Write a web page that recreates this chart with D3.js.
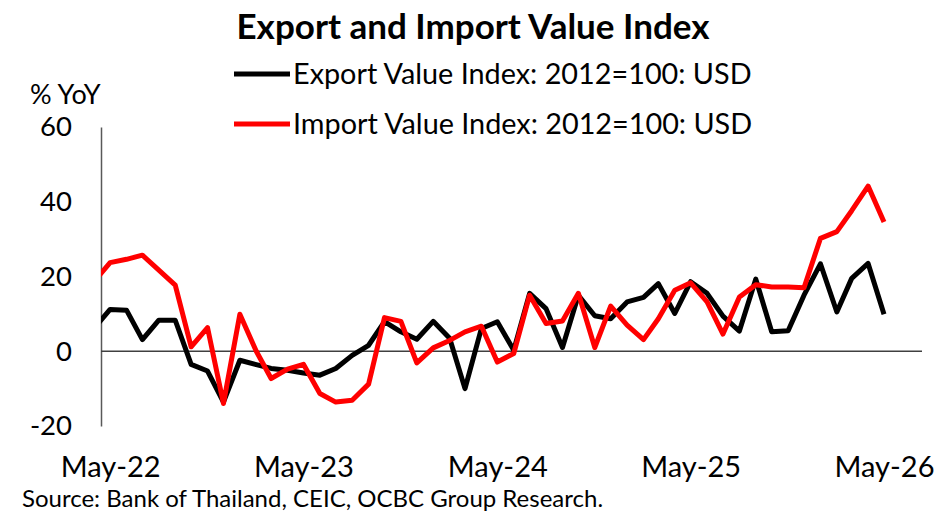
<!DOCTYPE html>
<html>
<head>
<meta charset="utf-8">
<script src="https://cdn.jsdelivr.net/npm/d3@7"></script>
<style>
  body { margin: 0; background: #fff; }
  text { font-family: Lato, "Open Sans", sans-serif; fill: #000; }
</style>
</head>
<body>
<div id="chart"></div>
<script>
// Datos (% YoY), meses de Apr-22 a May-26
const months = d3.timeMonth.range(new Date(2022, 3, 1), new Date(2026, 5, 1));

const exportValues = [6.2, 11.2, 11.0, 3.1, 8.3, 8.3, -3.5, -5.3, -13.6, -2.4,
  -3.6, -4.6, -5.1, -5.8, -6.4, -4.6, -1.1, 1.6, 7.9, 5.2,
  3.2, 8.0, 3.5, -10.0, 6.1, 7.9, 0.3, 15.5, 11.4, 1.0,
  15.0, 9.5, 8.7, 13.2, 14.4, 18.1, 10.1, 18.6, 15.5, 9.4,
  5.4, 19.3, 5.2, 5.5, 15.0, 23.4, 10.5, 19.5, 23.5, 9.9];

const importValues = [18.7, 23.7, 24.6, 25.7, 21.7, 17.7, 1.2, 6.3, -14.0, 9.9,
  0.0, -7.3, -4.8, -3.5, -11.3, -13.6, -13.1, -8.8, 9.0, 8.0,
  -3.1, 0.9, 2.9, 5.2, 6.7, -2.9, -0.6, 15.0, 7.4, 8.1,
  15.5, 1.0, 12.1, 7.0, 3.1, 8.7, 16.3, 18.3, 13.2, 4.6,
  14.5, 17.8, 17.2, 17.2, 17.0, 30.2, 32.0, 37.6, 44.2, 34.6];

const yTicks = [-20, 0, 20, 40, 60];
const xTickDates = [new Date(2022, 4, 1), new Date(2023, 4, 1), new Date(2024, 4, 1),
  new Date(2025, 4, 1), new Date(2026, 4, 1)];

const seriesNames = ['Export Value Index: 2012=100: USD', 'Import Value Index: 2012=100: USD'];
const seriesColors = ['#000000', '#ff0000'];

// Constantes
const width = 950;
const height = 515;
const plotLeft = 101;
const plotRight = 922;

const svg = d3.select('#chart')
  .append('svg')
  .attr('width', width)
  .attr('height', height);

const x = d3.scaleTime()
  .domain([months[0], months[months.length - 1]])
  .range([94.2, 884]);

const y = d3.scaleLinear()
  .domain([-20, 60])
  .range([426, 127]);

// Titulo
svg.append('text')
  .attr('x', 473)
  .attr('y', 39)
  .attr('text-anchor', 'middle')
  .attr('font-size', 35)
  .attr('font-weight', 'bold')
  .text('Export and Import Value Index');

// Leyenda
seriesNames.forEach((name, i) => {
  const ly = 74 + i * 50;
  svg.append('line')
    .attr('x1', 234).attr('x2', 290)
    .attr('y1', ly).attr('y2', ly)
    .attr('stroke', seriesColors[i])
    .attr('stroke-width', 5);
  svg.append('text')
    .attr('x', 293)
    .attr('y', ly + 10)
    .attr('font-size', 28.8)
    .text(name);
});

// Eje Y
svg.append('text')
  .attr('x', 30)
  .attr('y', 104)
  .attr('font-size', 27)
  .text('% YoY');

const yAxis = svg.append('g')
  .attr('transform', `translate(${plotLeft},0)`)
  .call(d3.axisLeft(y).tickValues(yTicks).tickFormat(d => String(d)).tickSize(0).tickPadding(29));
yAxis.select('.domain').attr('stroke', '#595959').attr('stroke-width', 1.5);
yAxis.selectAll('text')
  .attr('font-size', 27.5)
  .attr('font-family', 'Lato, sans-serif')
  .attr('fill', '#000');

// Linea del cero
svg.append('line')
  .attr('x1', plotLeft).attr('x2', plotRight)
  .attr('y1', y(0)).attr('y2', y(0))
  .attr('stroke', '#404040')
  .attr('stroke-width', 1.5);

// Eje X (etiquetas abajo)
const xAxis = svg.append('g')
  .attr('transform', 'translate(0,456)')
  .call(d3.axisBottom(x).tickValues(xTickDates).tickFormat(d3.timeFormat('%b-%y')).tickSize(0).tickPadding(0));
xAxis.select('.domain').remove();
xAxis.selectAll('text')
  .attr('font-size', 29)
  .attr('font-family', 'Lato, sans-serif')
  .attr('fill', '#000');

// Lineas
svg.append('clipPath')
  .attr('id', 'plotclip')
  .append('rect')
  .attr('x', plotLeft)
  .attr('y', 0)
  .attr('width', plotRight - plotLeft)
  .attr('height', height);

const line = d3.line()
  .x((d, i) => x(months[i]))
  .y(d => y(d));

const groupLines = svg.append('g').attr('clip-path', 'url(#plotclip)');

[exportValues, importValues].forEach((values, i) => {
  groupLines.append('path')
    .datum(values)
    .attr('d', line)
    .attr('fill', 'none')
    .attr('stroke', seriesColors[i])
    .attr('stroke-width', 5)
    .attr('stroke-linejoin', 'round');
});

// Fuente
svg.append('text')
  .attr('x', 22)
  .attr('y', 507)
  .attr('font-size', 24)
  .text('Source: Bank of Thailand, CEIC, OCBC Group Research.');
</script>
</body>
</html>
